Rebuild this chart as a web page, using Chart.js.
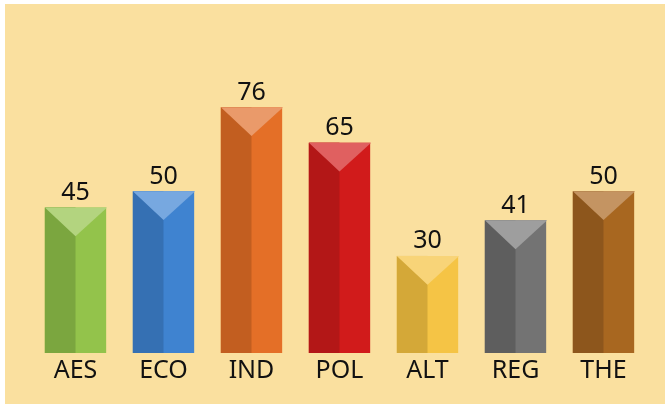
<!DOCTYPE html>
<html>
<head>
<meta charset="utf-8">
<script src="https://cdn.jsdelivr.net/npm/chart.js@4"></script>
<style>
    html, body { margin: 0; padding: 0; background: #ffffff; }
    #wrap {
        position: absolute;
        left: 5px;
        top: 4px;
        width: 660px;
        height: 400px;
        background: #fae09f;
    }
</style>
</head>
<body>
<div id="wrap"><canvas id="prismChart" width="660" height="400"></canvas></div>
<script>
const categories = ['AES', 'ECO', 'IND', 'POL', 'ALT', 'REG', 'THE'];
const values = [45, 50, 76, 65, 30, 41, 50];
// right face, left face, top face
const frontColors = ['#93c34b', '#3f83d0', '#e46f27', '#d11b1b', '#f5c445', '#737373', '#a86720'];
const sideColors = ['#7ba63f', '#3570b3', '#c25e20', '#b31717', '#d4a838', '#5e5e5e', '#8d561c'];
const topColors = ['#b3d47f', '#77a8e0', '#ea9a6a', '#e06060', '#f8d478', '#9e9e9e', '#c49462'];

document.addEventListener('DOMContentLoaded', function() {
    // draws the darker left half, the top triangle and the value label
    const prismPlugin = {
        id: 'prism',
        afterDatasetsDraw(chart) {
            const c = chart.ctx;
            const meta = chart.getDatasetMeta(0);
            meta.data.forEach((bar, i) => {
                const half = bar.width / 2;
                const left = bar.x - half;
                const right = bar.x + half;
                const depth = bar.width * 0.47;
                c.save();
                c.fillStyle = sideColors[i];
                c.fillRect(left, bar.y, half, bar.base - bar.y);
                c.beginPath();
                c.moveTo(left, bar.y);
                c.lineTo(right + 1, bar.y);
                c.lineTo(bar.x, bar.y + depth);
                c.closePath();
                c.fillStyle = topColors[i];
                c.fill();

                c.fillStyle = '#111111';
                c.font = '25px "Noto Sans"';
                c.textAlign = 'center';
                c.textBaseline = 'alphabetic';
                c.fillText(String(values[i]), bar.x, bar.y - 7.5);
                c.restore();
            });
        }
    };

    const ctx = document.getElementById('prismChart').getContext('2d');
    const prismChart = new Chart(ctx, {
        type: 'bar',
        data: {
            labels: categories,
            datasets: [{
                data: values,
                backgroundColor: frontColors,
                borderWidth: 0,
                barPercentage: 0.697,
                categoryPercentage: 1
            }]
        },
        options: {
            responsive: false,
            animation: false,
            layout: {
                padding: { left: 26.5, right: 17.5, top: 25.5, bottom: 15 }
            },
            plugins: {
                legend: { display: false },
                tooltip: { enabled: false }
            },
            scales: {
                x: {
                    grid: { display: false, drawTicks: false },
                    border: { display: false },
                    ticks: {
                        color: '#111111',
                        padding: 3,
                        font: { family: 'Noto Sans', size: 25 }
                    }
                },
                y: {
                    display: false,
                    min: 0,
                    max: 100
                }
            }
        },
        plugins: [prismPlugin]
    });
});
</script>
</body>
</html>
